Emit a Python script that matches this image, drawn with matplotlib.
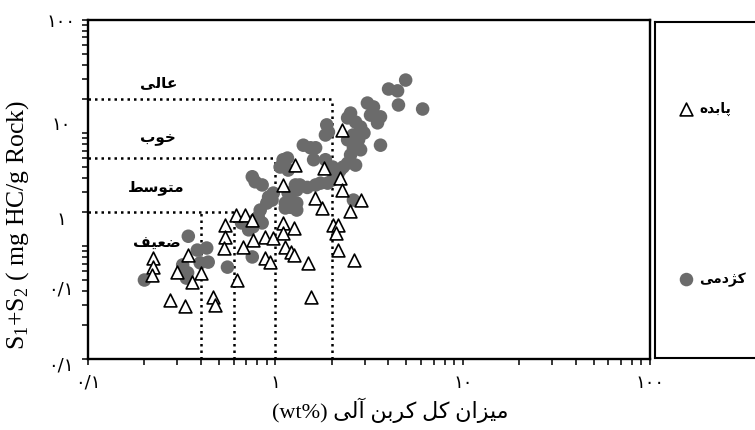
import matplotlib
matplotlib.use('Agg')
import matplotlib.pyplot as plt
from matplotlib.ticker import LogLocator, NullFormatter

plt.rcParams['font.family'] = ['Liberation Serif', 'DejaVu Sans']
plt.rcParams['mathtext.fontset'] = 'custom'
plt.rcParams['mathtext.rm'] = 'Liberation Serif'

# Pabdeh samples (TOC wt%, S1+S2 mg HC/g rock)
pab_toc = [0.223, 0.223, 0.22, 0.274, 0.33, 0.34, 0.30, 0.36, 0.40, 0.466,
           0.478, 0.54, 0.54, 0.53, 0.62, 0.69, 0.753, 0.674, 0.625, 0.76,
           0.885, 0.975, 0.885, 0.94, 1.10, 1.10, 1.26, 1.10, 1.13, 1.21,
           1.25, 1.50, 1.54, 1.62, 1.78, 2.02, 2.15, 2.10, 2.15, 2.28,
           2.22, 2.28, 2.85, 2.49, 2.64, 1.28, 1.81]
pab_s12 = [0.78, 0.65, 0.555, 0.333, 0.294, 0.83, 0.59, 0.48, 0.58, 0.354,
           0.30, 1.53, 1.20, 0.96, 1.88, 1.9, 1.70, 0.98, 0.50, 1.13,
           1.20, 1.18, 0.78, 0.72, 3.47, 1.60, 1.44, 1.30, 0.98, 0.885,
           0.83, 0.71, 0.354, 2.66, 2.17, 1.53, 1.53, 1.30, 0.92, 10.6,
           4.0, 3.13, 2.55, 2.04, 0.75, 5.2, 4.9]

# Kazhdumi samples
kaz_toc = [0.20, 0.343, 0.383, 0.43, 0.438, 0.397, 0.32, 0.34, 0.555, 0.753,
           0.66, 0.70, 0.76, 0.72, 0.78, 0.81, 0.85, 0.83,
           0.92, 0.975, 0.96, 0.90,
           0.753, 0.78, 0.85,
           1.16, 1.13, 1.06, 1.17, 1.10,
           1.28, 1.17, 1.30, 1.21, 1.13, 1.30,
           1.35, 1.48, 1.64, 1.74,
           1.41, 1.54, 1.64, 1.60,
           1.85, 2.02, 2.05,
           1.88, 1.92, 1.85,
           2.52, 2.43, 2.68,
           3.10, 3.34, 3.22, 3.64, 3.51,
           2.85, 2.97, 2.78, 2.61, 2.52, 2.43, 2.22, 2.15, 2.68, 2.85,
           3.64,
           4.02, 4.49, 4.96, 4.54, 6.11,
           2.61, 1.21, 1.30, 1.13, 0.335, 1.9, 2.02, 2.3, 2.43, 2.6]
kaz_s12 = [0.50, 1.22, 0.92, 0.96, 0.72, 0.71, 0.68, 0.58, 0.65, 0.80,
           1.60, 1.60, 1.48, 1.39, 1.70, 1.81, 1.60, 2.08,
           2.71, 2.94, 2.55, 2.40,
           4.1, 3.7, 3.47,
           6.0, 5.0, 5.0, 4.7, 5.8,
           3.47, 2.94, 3.13, 2.55, 2.40, 2.40,
           3.47, 3.3, 3.47, 3.6,
           7.8, 7.4, 7.4, 5.8,
           5.8, 5.0, 4.7,
           11.8, 10.2, 9.6,
           15.0, 13.6, 12.5,
           18.4, 17.0, 14.4, 13.9, 12.3,
           11.3, 10.0, 8.7, 7.4, 6.4, 5.4, 4.7, 4.25, 5.2, 7.1,
           7.8,
           24.5, 23.6, 29.4, 17.7, 16.3,
           2.55, 2.2, 2.08, 2.17, 0.52, 3.6, 3.85, 5.0, 8.7, 9.6]

# quality boundaries
s_levels = [2, 6, 20]
s_level_ends = [0.6, 1, 2]
toc_levels = [0.4, 0.6, 1, 2]
toc_level_tops = [2, 2, 6, 20]

# Persian text, written in presentation forms (visual order)
cls_names = ['\uFEF0\uFEDF\uFE8E\uFECB',            # aali
             '\uFE8F\uFEEE\uFEA7',                  # khoob
             '\uFEC2\uFEB3\uFEEE\uFE98\uFEE3',      # motevaset
             '\uFED2\uFEF4\uFECC\uFEBF']            # zaeef
cls_x = [0.237, 0.237, 0.232, 0.232]
cls_y = [27.7, 9.0, 3.3, 1.06]
name_pab = '\uFEE9\uFEAA\uFE91\uFE8E\uFB58'
name_kaz = '\uFEF0\uFEE3\uFEA9\uFB8B\uFB90'
xlabel = ('(wt%) ' + '\uFEF0\uFEDF\uFE81' + ' ' + '\uFEE6\uFE91\uFEAE\uFB90'
          + ' ' + '\uFEDE\uFB90' + ' ' + '\uFEE5\uFE8D\uFEB0\uFEF4\uFEE3')

x_ticks = [0.1, 1, 10, 100]
x_tick_labels = ['\u06F0/\u06F1', '\u06F1', '\u06F1\u06F0', '\u06F1\u06F0\u06F0']
y_tick_labels = ['\u06F1\u06F0\u06F0', '\u06F1\u06F0', '\u06F1', '\u06F0/\u06F1', '\u06F0/\u06F1']
y_tick_label_pos = [96, 11.8, 1.7, 0.41, 0.088]

fig = plt.figure(figsize=(7.55, 4.30), dpi=100)
ax = fig.add_axes([0.1166, 0.1651, 0.7444, 0.7884])

kaz = ax.scatter(kaz_toc, kaz_s12, s=95, marker='o', color='#6b6b6b',
                 edgecolors='none', zorder=3)
pab = ax.scatter(pab_toc, pab_s12, s=85, marker='^', facecolor='white',
                 edgecolors='black', linewidths=1.2, zorder=4)

dots = (0, (1, 1.6))
ax.hlines(s_levels, 0.1, s_level_ends, colors='black', linestyles=dots, lw=1.8, zorder=2)
ax.vlines(toc_levels, 0.1, toc_level_tops, colors='black', linestyles=dots, lw=1.8, zorder=2)

for t, xx, yy in zip(cls_names, cls_x, cls_y):
    ax.text(xx, yy, t, ha='center', va='center', fontsize=11,
            fontweight='bold', family='DejaVu Sans')

ax.set_xscale('log')
ax.set_yscale('log')
ax.set_xlim(0.1, 100)
ax.set_ylim(0.1, 100)
ax.set_xticks(x_ticks)
ax.set_xticklabels(x_tick_labels, family='DejaVu Sans', fontsize=13)
ax.xaxis.set_minor_locator(LogLocator(base=10, subs=range(2, 10)))
ax.xaxis.set_minor_formatter(NullFormatter())
ax.yaxis.set_major_locator(LogLocator(base=10, subs=range(1, 10)))
ax.yaxis.set_major_formatter(NullFormatter())
ax.yaxis.set_minor_formatter(NullFormatter())
ax.tick_params(which='both', direction='out', length=4.5, width=1.1, pad=6)

ytr = ax.get_yaxis_transform()
for t, yy in zip(y_tick_labels, y_tick_label_pos):
    ax.text(-0.048, yy, t, transform=ytr, ha='center', va='center',
            fontsize=13, family='DejaVu Sans', clip_on=False)

for sp in ax.spines.values():
    sp.set_linewidth(1.7)

ax.set_ylabel('S$_\\mathrm{1}$+S$_\\mathrm{2}$ ( mg HC/g Rock)', fontsize=18.5,
              va='center')
ax.yaxis.set_label_coords(-0.1246, 0.395)
ax.set_xlabel(xlabel, fontsize=16, va='center')
ax.xaxis.set_label_coords(0.537, -0.152)

# legend panel
ax2 = fig.add_axes([0.8675, 0.1674, 0.2, 0.7814])
ax2.set_xticks([])
ax2.set_yticks([])
for sp in ax2.spines.values():
    sp.set_linewidth(1.5)
leg = ax2.legend([pab, kaz], [name_pab, name_kaz], loc='upper left',
                 bbox_to_anchor=(0.08, 0.8), frameon=False, labelspacing=11.26,
                 handletextpad=0.4, handlelength=1.0,
                 prop={'family': 'DejaVu Sans', 'weight': 'bold', 'size': 10})

fig.savefig('out.png', dpi=100)
